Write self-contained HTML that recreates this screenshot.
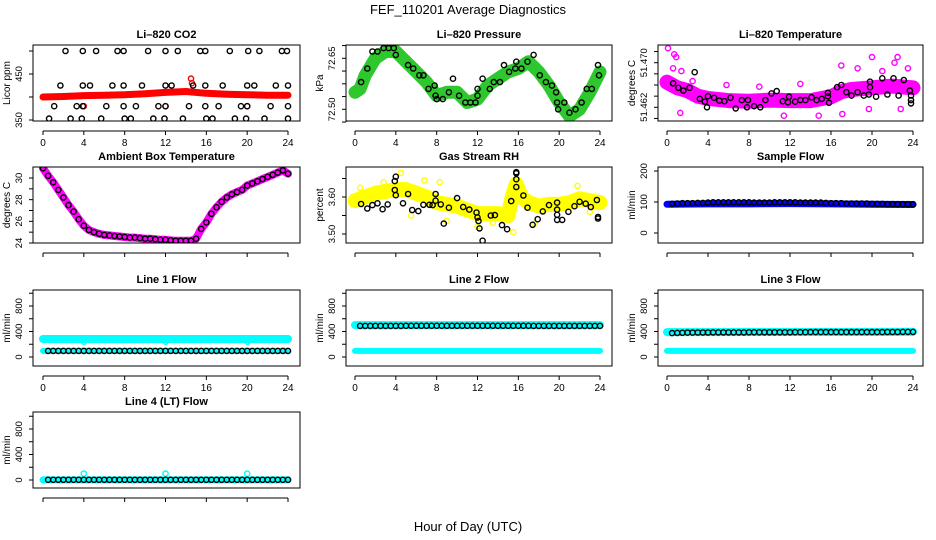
<!DOCTYPE html>
<html><head><meta charset="utf-8"><title>FEF_110201 Average Diagnostics</title>
<style>
html,body{margin:0;padding:0;background:#fff;}
svg{display:block;font-family:"Liberation Sans",Arial,sans-serif;}
</style></head>
<body>
<svg id="chart" width="936" height="540" viewBox="0 0 936 540" xmlns="http://www.w3.org/2000/svg">
<rect x="0" y="0" width="936" height="540" fill="#fff"/>
<text x="468" y="14" font-size="13" text-anchor="middle">FEF_110201  Average Diagnostics</text>
<text x="468" y="531" font-size="13" text-anchor="middle">Hour of Day (UTC)</text>
<g id="panels"></g>
</svg>
<script>
// ---------- data ----------
const xTicks = [0,4,8,12,16,20,24];
const halfHours = [0.5,1,1.5,2,2.5,3,3.5,4,4.5,5,5.5,6,6.5,7,7.5,8,8.5,9,9.5,10,10.5,11,11.5,12,12.5,13,13.5,14,14.5,15,15.5,16,16.5,17,17.5,18,18.5,19,19.5,20,20.5,21,21.5,22,22.5,23,23.5,24];

// CO2
const co2BandH = [0,2,4,6,8,10,12,14,16,18,20,22,24];
const co2BandV = [400,401,403,404,405,407,410,412,408,406,405,404,404];
const co2PtsH = [2.2,3.9,5.2,7.3,7.9,10.3,12.0,13.2,15.4,15.9,18.3,20.1,21.2,23.4,23.9,
 1.7,3.9,4.6,6.8,7.9,9.7,12.0,12.6,14.7,15.9,17.6,20.0,20.7,22.8,24.0,
 1.1,3.3,3.9,6.2,7.9,9.1,11.3,12.0,14.3,15.9,17.2,19.4,20.0,22.3,24.0,
 0.6,2.7,3.8,5.7,8.0,8.6,10.8,11.9,13.7,16.0,16.6,18.8,19.9,21.7,24.0];
const co2PtsV = [500,500,500,500,500,500,500,500,500,500,500,500,500,500,500,
 425,425,425,425,425,425,425,425,425,425,425,425,425,425,425,
 380,380,380,380,380,380,380,380,380,380,380,380,380,380,380,
 353,353,353,353,353,353,353,353,353,353,353,353,353,353,353];
const co2RedH = [14.5,14.6,4.0,12.0,20.0];
const co2RedV = [440,430,380,380,380];

// Pressure
const presBandH = [0,0.5,1,2,3,4,5,6,7,8,9,10,11,12,13,14,15,16,17,18,19,20,21,22,23,24];
const presBandV = [72.55,72.56,72.60,72.65,72.67,72.67,72.64,72.61,72.58,72.54,72.55,72.55,72.52,72.53,72.57,72.59,72.61,72.62,72.64,72.61,72.57,72.52,72.48,72.50,72.55,72.61];
const presPtsH = [0.6,1.2,1.7,2.2,2.8,3.3,3.8,3.9,4.0,4.6,5.2,5.7,6.3,6.7,7.2,7.8,7.9,8.0,8.6,9.2,9.6,10.2,10.8,11.3,11.8,12.0,12.0,12.5,13.2,13.6,14.2,14.6,15.1,15.7,15.8,16.3,16.9,17.5,18.1,18.7,19.3,19.7,19.8,19.9,20.5,21.0,21.6,22.2,22.7,23.2,23.8,23.9];
const presPtsV = [72.58,72.62,72.67,72.67,72.68,72.68,72.68,72.71,72.66,72.70,72.63,72.62,72.60,72.60,72.56,72.57,72.54,72.53,72.53,72.55,72.59,72.54,72.52,72.52,72.52,72.54,72.56,72.59,72.56,72.58,72.58,72.63,72.61,72.62,72.64,72.62,72.64,72.66,72.60,72.58,72.57,72.55,72.52,72.50,72.52,72.49,72.50,72.52,72.56,72.56,72.63,72.60];

// Li-820 temperature
const tempBandH = [0,1,2,3,4,6,8,10,12,14,16,17,18,20,22,24];
const tempBandV = [51.4665,51.4655,51.465,51.464,51.4636,51.4632,51.4631,51.4633,51.4632,51.4632,51.4639,51.4648,51.4652,51.4655,51.4658,51.4655];
const tempMagH = [0.1,0.7,0.9,0.6,1.3,1.4,17.0,18.6,20.0,22.5,22.2,14.8,11.4,17.1,22.8,19.7,2.5,5.8,9.0,13.0,21.0,23.5];
const tempMagV = [51.4726,51.4715,51.4710,51.4690,51.4610,51.4685,51.4695,51.4690,51.4710,51.4710,51.4700,51.4605,51.4605,51.4608,51.4617,51.4617,51.4667,51.4660,51.4657,51.4662,51.4685,51.4690];
const tempPtsH = [0.6,1.1,1.6,2.2,2.7,3.2,3.7,3.9,4.0,4.6,5.1,5.6,6.2,6.7,7.3,7.8,7.9,8.5,9.1,9.6,10.2,10.7,11.3,11.8,11.9,12.5,13.0,13.5,14.1,14.6,15.1,15.7,15.7,15.8,16.6,17.0,17.5,18.0,18.6,19.2,19.7,19.8,19.8,20.4,21.0,21.5,22.1,22.6,23.1,23.7,23.8,23.8,23.8];
const tempPtsV = [51.4663,51.4655,51.4650,51.4655,51.4683,51.4635,51.4630,51.4620,51.4640,51.4637,51.4632,51.4631,51.4637,51.4618,51.4633,51.4620,51.4633,51.4622,51.4620,51.4633,51.4645,51.4649,51.4631,51.4629,51.4639,51.4630,51.4633,51.4633,51.4638,51.4633,51.4635,51.4640,51.4646,51.4628,51.4656,51.4660,51.4647,51.4641,51.4647,51.4641,51.4643,51.4656,51.4666,51.4639,51.4672,51.4643,51.4672,51.4641,51.4669,51.4650,51.4641,51.4633,51.4627];

// Ambient box temperature (0..24 by 0.5 h)
const ambH = [0,0.5,1,1.5,2,2.5,3,3.5,4,4.5,5,5.5,6,6.5,7,7.5,8,8.5,9,9.5,10,10.5,11,11.5,12,12.5,13,13.5,14,14.5,15,15.5,16,16.5,17,17.5,18,18.5,19,19.5,20,20.5,21,21.5,22,22.5,23,23.5,24];
const ambV = [30.9,30.2,29.6,28.9,28.2,27.5,26.9,26.2,25.6,25.2,25.0,24.85,24.75,24.7,24.65,24.6,24.55,24.5,24.5,24.45,24.4,24.4,24.35,24.3,24.3,24.25,24.2,24.2,24.2,24.2,24.4,25.3,25.9,26.7,27.3,27.8,28.2,28.5,28.7,28.9,29.3,29.5,29.7,29.9,30.1,30.3,30.5,30.7,30.4];

// Gas stream RH
const rhBandH = [0,1,2,3,4,5,6,7,8,9,10,11,12,13,14,15,15.4,15.8,16.3,17,18,19,20,21,22,23,24];
const rhBandV = [3.59,3.60,3.61,3.615,3.62,3.62,3.61,3.60,3.585,3.58,3.575,3.565,3.555,3.555,3.555,3.55,3.60,3.635,3.60,3.585,3.575,3.58,3.58,3.585,3.595,3.59,3.585];
const rhYelH = [4.5,15.5,12.0,0.5,2.8,6.8,9.0,13.5,17.6,21.8,23.0,8.3,5.5];
const rhYelV = [3.665,3.505,3.520,3.625,3.640,3.645,3.535,3.530,3.528,3.630,3.560,3.640,3.550];
const rhPtsH = [0.6,1.2,1.7,2.2,2.7,3.2,3.9,3.9,4.0,4.0,4.7,5.2,5.6,6.2,6.7,7.3,7.6,7.9,7.9,8.4,8.7,9.2,10.0,10.6,11.2,11.9,12.0,12.1,12.2,12.5,13.3,13.7,14.4,14.9,15.3,15.8,15.8,15.8,15.8,16.5,16.9,17.4,17.9,18.4,19.0,19.8,19.8,19.8,19.8,20.3,20.9,21.5,22.0,22.6,23.1,23.7,23.8,23.8];
const rhPtsV = [3.581,3.569,3.578,3.583,3.567,3.580,3.619,3.643,3.655,3.605,3.583,3.608,3.565,3.562,3.579,3.579,3.578,3.608,3.590,3.580,3.528,3.571,3.597,3.573,3.566,3.558,3.545,3.535,3.515,3.482,3.550,3.551,3.524,3.513,3.589,3.664,3.667,3.648,3.627,3.604,3.571,3.525,3.540,3.561,3.578,3.585,3.566,3.552,3.538,3.538,3.560,3.575,3.587,3.582,3.573,3.592,3.546,3.542];

// Sample flow
const sfBandH = [0,4,8,12,16,20,24];
const sfBandV = [93,94,94,95,94,93,92];
const sfPtsV = [94,95,96,96,96,97,97,98,99,99,99,99,99,99,99,99,98,98,98,98,99,99,99,99,99,98,98,98,98,98,97,96,96,96,95,95,95,95,95,94,94,94,93,93,93,93,93,93];

// Line flows
const bandEnds = [0,24];
const l1CyanTop = [282,282];
const l1CyanBot = [96,96];
const l1PtsV = [96,96,96,96,96,96,96,96,96,96,96,96,96,96,96,96,96,96,96,96,96,96,96,96,96,96,96,96,96,96,96,96,96,96,96,96,96,96,96,96,96,96,96,96,96,96,96,96];
const l1CyanOutH = [4,12,20];
const l1CyanOutV = [240,240,240];
const l2CyanTop = [500,500];
const l2CyanBot = [96,96];
const l2PtsV = [488,488,488,488,488,488,488,488,488,489,489,489,489,489,489,489,489,489,489,489,489,489,489,489,489,489,489,489,489,489,489,489,489,489,488,488,488,488,488,488,488,488,488,488,488,488,488,488];
const l3CyanTop = [390,395];
const l3CyanBot = [96,96];
const l3PtsV = [375,378,380,382,383,384,385,385,386,386,386,386,386,386,386,387,387,387,387,387,387,388,388,388,389,389,389,390,390,390,390,390,390,390,390,390,390,390,390,391,391,391,392,392,392,393,393,393];
const l4CyanBand = [2,2];
const l4PtsV = [3,3,3,3,3,3,3,3,3,3,3,3,3,3,3,3,3,3,3,3,3,3,3,3,3,3,3,3,3,3,3,3,3,3,3,3,3,3,3,3,3,3,3,3,3,3,3,3];
const l4CyanOutH = [4,12,20];
const l4CyanOutV = [100,100,100];

// ---------- layout ----------
const cols = [{l:33,r:300,x0:43,x24:288},{l:346,r:612,x0:355,x24:600},{l:658,r:923,x0:667,x24:913}];
const rowTop = [45,167,290,412];
const H = 76;
const NS = 'http://www.w3.org/2000/svg';
const root = document.getElementById('panels');

function mk(tag, attrs, parent){
  const e = document.createElementNS(NS, tag);
  for (const k in attrs) e.setAttribute(k, attrs[k]);
  (parent||root).appendChild(e);
  return e;
}

const panels = [
 {key:'co2',title:'Li\u2013820 CO2',c:0,r:0,v0:350,p0:120,v1:450,p1:74,ticks:[350,400,450,500],labels:['350','','450',''],ylab:'Licor ppm',xl:true},
 {key:'pressure',title:'Li\u2013820 Pressure',c:1,r:0,v0:72.50,p0:109.3,v1:72.65,p1:58.3,ticks:[72.4625,72.5,72.5375,72.575,72.6125,72.65,72.6875],labels:['','72.50','','','','72.65',''],ylab:'kPa',xl:true},
 {key:'li820-temp',title:'Li\u2013820 Temperature',c:2,r:0,v0:51.462,p0:107.3,v1:51.470,p1:62.7,ticks:[51.460,51.462,51.464,51.466,51.468,51.470,51.472],labels:['','51.462','','','','51.470',''],ylab:'degrees C',xl:true},
 {key:'ambient-temp',title:'Ambient Box Temperature',c:0,r:1,v0:24,p0:243,v1:30,p1:178,ticks:[24,25,26,27,28,29,30],labels:['24','','26','','28','','30'],ylab:'degrees C',xl:false},
 {key:'rh',title:'Gas Stream RH',c:1,r:1,v0:3.50,p0:234,v1:3.60,p1:197,ticks:[3.50,3.55,3.60,3.65],labels:['3.50','','3.60',''],ylab:'percent',xl:false},
 {key:'sample-flow',title:'Sample Flow',c:2,r:1,v0:0,p0:233,v1:200,p1:171,ticks:[0,100,200],labels:['0','100','200'],ylab:'ml/min',xl:false},
 {key:'line1-flow',title:'Line 1 Flow',c:0,r:2,v0:0,p0:357,v1:800,p1:306,ticks:[0,200,400,600,800,1000],labels:['0','','400','','800',''],ylab:'ml/min',xl:true},
 {key:'line2-flow',title:'Line 2 Flow',c:1,r:2,v0:0,p0:357,v1:800,p1:306,ticks:[0,200,400,600,800,1000],labels:['0','','400','','800',''],ylab:'ml/min',xl:true},
 {key:'line3-flow',title:'Line 3 Flow',c:2,r:2,v0:0,p0:357,v1:800,p1:306,ticks:[0,200,400,600,800,1000],labels:['0','','400','','800',''],ylab:'ml/min',xl:true},
 {key:'line4-flow',title:'Line 4 (LT) Flow',c:0,r:3,v0:0,p0:480,v1:800,p1:429,ticks:[0,200,400,600,800,1000],labels:['0','','400','','800',''],ylab:'ml/min',xl:false}
];

function drawPanel(p, series){
  const col = cols[p.c], top = rowTop[p.r], bot = top + H;
  const g = mk('g', {});
  
  
  const xs = h => col.x0 + (col.x24 - col.x0) * h / 24;
  const ys = v => p.p0 + (v - p.v0) * (p.p1 - p.p0) / (p.v1 - p.v0);
  const cid = 'clip-' + p.key;
  const cp = mk('clipPath', {id:cid}, g);
  mk('rect', {x:col.l, y:top, width:col.r-col.l, height:H}, cp);
  const data = mk('g', {'clip-path':'url(#'+cid+')'}, g);
  
  
  series.forEach(s => {
    if (s.type === 'band') {
      const pts = s.h.map((h,i) => xs(h).toFixed(1)+','+ys(s.v[i]).toFixed(1)).join(' ');
      const pl = mk('polyline', {points:pts, fill:'none', stroke:s.color, 'stroke-width':s.w, 'stroke-linecap':'round', 'stroke-linejoin':'round'}, data);
      
      
    } else {
      s.h.forEach((h,i) => {
        const c = mk('circle', {cx:xs(h).toFixed(1), cy:ys(s.v[i]).toFixed(1), r:2.6, fill:'none', stroke:s.color, 'stroke-width':1.4}, data);
        
        
      });
    }
  });
  const box = mk('rect', {x:col.l, y:top, width:col.r-col.l, height:H, fill:'none', stroke:'#000', 'stroke-width':1}, g);
  
  
  const t = mk('text', {x:(col.l+col.r)/2, y:top-7, 'font-size':11, 'font-weight':'bold', 'text-anchor':'middle'}, g);
  t.textContent = p.title;
  
  
  const ax = bot + 10;
  const xa = mk('g', {}, g);
  
  
  mk('line', {x1:xs(0), x2:xs(24), y1:ax, y2:ax, stroke:'#000'}, xa);
  xTicks.forEach(h => {
    mk('line', {x1:xs(h), x2:xs(h), y1:ax, y2:ax+4, stroke:'#000'}, xa);
    if (p.xl) {
      const tl = mk('text', {x:xs(h), y:ax+15, 'font-size':10, 'text-anchor':'middle'}, xa);
      tl.textContent = String(h);
      
      
    }
  });
  const ya = mk('g', {}, g);
  
  
  const yt = p.ticks.map(ys);
  mk('line', {x1:col.l, x2:col.l, y1:Math.min(...yt), y2:Math.max(...yt), stroke:'#000'}, ya);
  p.ticks.forEach((v,i) => {
    const y = ys(v);
    mk('line', {x1:col.l-4, x2:col.l, y1:y, y2:y, stroke:'#000'}, ya);
    if (p.labels[i]) {
      const tl = mk('text', {x:0, y:0, 'font-size':9.5, 'text-anchor':'middle', transform:'translate('+(col.l-11)+','+y.toFixed(1)+') rotate(-90)'}, ya);
      tl.textContent = p.labels[i];
      
      
    }
  });
  const yl = mk('text', {x:0, y:0, 'font-size':10, 'text-anchor':'middle', transform:'translate('+(col.l-23)+','+(top+H/2)+') rotate(-90)'}, ya);
  yl.textContent = p.ylab;
  
  
}

const seriesByPanel = {
 'co2':[{type:'band',name:'co2-band',h:co2BandH,v:co2BandV,color:'#ff0000',w:7},
        {type:'pts',name:'co2-red-point',h:co2RedH,v:co2RedV,color:'#ff0000'},
        {type:'pts',name:'co2-average-point',h:co2PtsH,v:co2PtsV,color:'#000'}],
 'pressure':[{type:'band',name:'pressure-band',h:presBandH,v:presBandV,color:'#2ec82e',w:13},
        {type:'pts',name:'pressure-average-point',h:presPtsH,v:presPtsV,color:'#000'}],
 'li820-temp':[{type:'band',name:'temp-band',h:tempBandH,v:tempBandV,color:'#ff00ff',w:15},
        {type:'pts',name:'temp-magenta-point',h:tempMagH,v:tempMagV,color:'#ff00ff'},
        {type:'pts',name:'temp-average-point',h:tempPtsH,v:tempPtsV,color:'#000'}],
 'ambient-temp':[{type:'band',name:'ambient-band',h:ambH,v:ambV,color:'#ff00ff',w:8},
        {type:'pts',name:'ambient-average-point',h:ambH,v:ambV,color:'#000'}],
 'rh':[{type:'band',name:'rh-band',h:rhBandH,v:rhBandV,color:'#ffff00',w:15},
        {type:'pts',name:'rh-yellow-point',h:rhYelH,v:rhYelV,color:'#ffff00'},
        {type:'pts',name:'rh-average-point',h:rhPtsH,v:rhPtsV,color:'#000'}],
 'sample-flow':[{type:'band',name:'sample-flow-band',h:sfBandH,v:sfBandV,color:'#0000ff',w:7},
        {type:'pts',name:'sample-flow-point',h:halfHours,v:sfPtsV,color:'#000'}],
 'line1-flow':[{type:'band',name:'line1-cyan-top',h:bandEnds,v:l1CyanTop,color:'#00ffff',w:8},
        {type:'band',name:'line1-cyan-bottom',h:bandEnds,v:l1CyanBot,color:'#00ffff',w:6},
        {type:'pts',name:'line1-cyan-point',h:l1CyanOutH,v:l1CyanOutV,color:'#00ffff'},
        {type:'pts',name:'line1-average-point',h:halfHours,v:l1PtsV,color:'#000'}],
 'line2-flow':[{type:'band',name:'line2-cyan-top',h:bandEnds,v:l2CyanTop,color:'#00ffff',w:8},
        {type:'band',name:'line2-cyan-bottom',h:bandEnds,v:l2CyanBot,color:'#00ffff',w:6},
        {type:'pts',name:'line2-average-point',h:halfHours,v:l2PtsV,color:'#000'}],
 'line3-flow':[{type:'band',name:'line3-cyan-top',h:bandEnds,v:l3CyanTop,color:'#00ffff',w:8},
        {type:'band',name:'line3-cyan-bottom',h:bandEnds,v:l3CyanBot,color:'#00ffff',w:6},
        {type:'pts',name:'line3-average-point',h:halfHours,v:l3PtsV,color:'#000'}],
 'line4-flow':[{type:'band',name:'line4-cyan-band',h:bandEnds,v:l4CyanBand,color:'#00ffff',w:7},
        {type:'pts',name:'line4-cyan-point',h:l4CyanOutH,v:l4CyanOutV,color:'#00ffff'},
        {type:'pts',name:'line4-average-point',h:halfHours,v:l4PtsV,color:'#000'}]
};

panels.forEach(p => drawPanel(p, seriesByPanel[p.key]));
</script>
</body></html>
